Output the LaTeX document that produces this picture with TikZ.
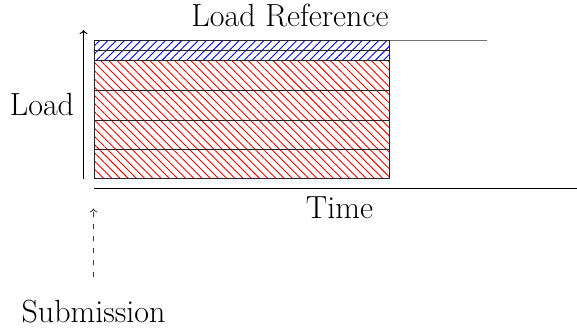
\documentclass[tikz,border=0pt]{standalone}
\usetikzlibrary{patterns.meta,arrows.meta}
\begin{document}
\begin{tikzpicture}[x=1pt,y=-1pt,
  lbl/.style={anchor=base,inner sep=0pt,font=\fontsize{32}{38}\selectfont},
  redrow/.style={draw=black!85,line width=1pt,pattern={Lines[angle=-45,distance=5.8pt,line width=0.9pt]},pattern color=red},
  bluerow/.style={draw=black!85,line width=1pt,pattern={Lines[angle=45,distance=5.8pt,line width=0.9pt]},pattern color=blue},
  axis/.style={line width=0.9pt,-{To[length=4pt,width=8pt]}},
  subarrow/.style={line width=0.9pt,black!75,dash pattern=on 5pt off 7pt,-{To[length=4pt,width=8pt]}}]
\useasboundingbox (0,0) rectangle (577,329);
% reference line
\coordinate (refL) at (94,40.7);
\coordinate (refR) at (487,40.7);
\draw[black!55,line width=1pt] (refL) -- (refR);
% rows
\draw[bluerow] (94,40.7) rectangle (389,50.7);
\draw[bluerow] (94,50.7) rectangle (389,60.7);
\draw[redrow] (94,60.7) rectangle (389,90);
\draw[redrow] (94,90) rectangle (389,120);
\draw[redrow] (94,120) rectangle (389,149);
\draw[redrow] (94,149) rectangle (389,178.5);
% axes
\coordinate (ya) at (83.5,178.5);
\coordinate (yb) at (83.5,30);
\draw[axis] (ya) -- (yb);
\coordinate (ta) at (94,188.3);
\coordinate (tb) at (577,188.3);
\draw[line width=1pt] (ta) -- (tb);
% submission
\coordinate (sa) at (93.5,277);
\coordinate (sb) at (93.5,208.5);
\draw[subarrow] (sa) -- (sb);
% labels
\node[lbl] (lref) at (290,27) {Load Reference};
\node[lbl] (load) at (42,115.7) {Load};
\node[lbl] (time) at (339.5,218) {Time};
\node[lbl] (sub) at (93.5,322.7) {Submission};
\end{tikzpicture}
\end{document}
